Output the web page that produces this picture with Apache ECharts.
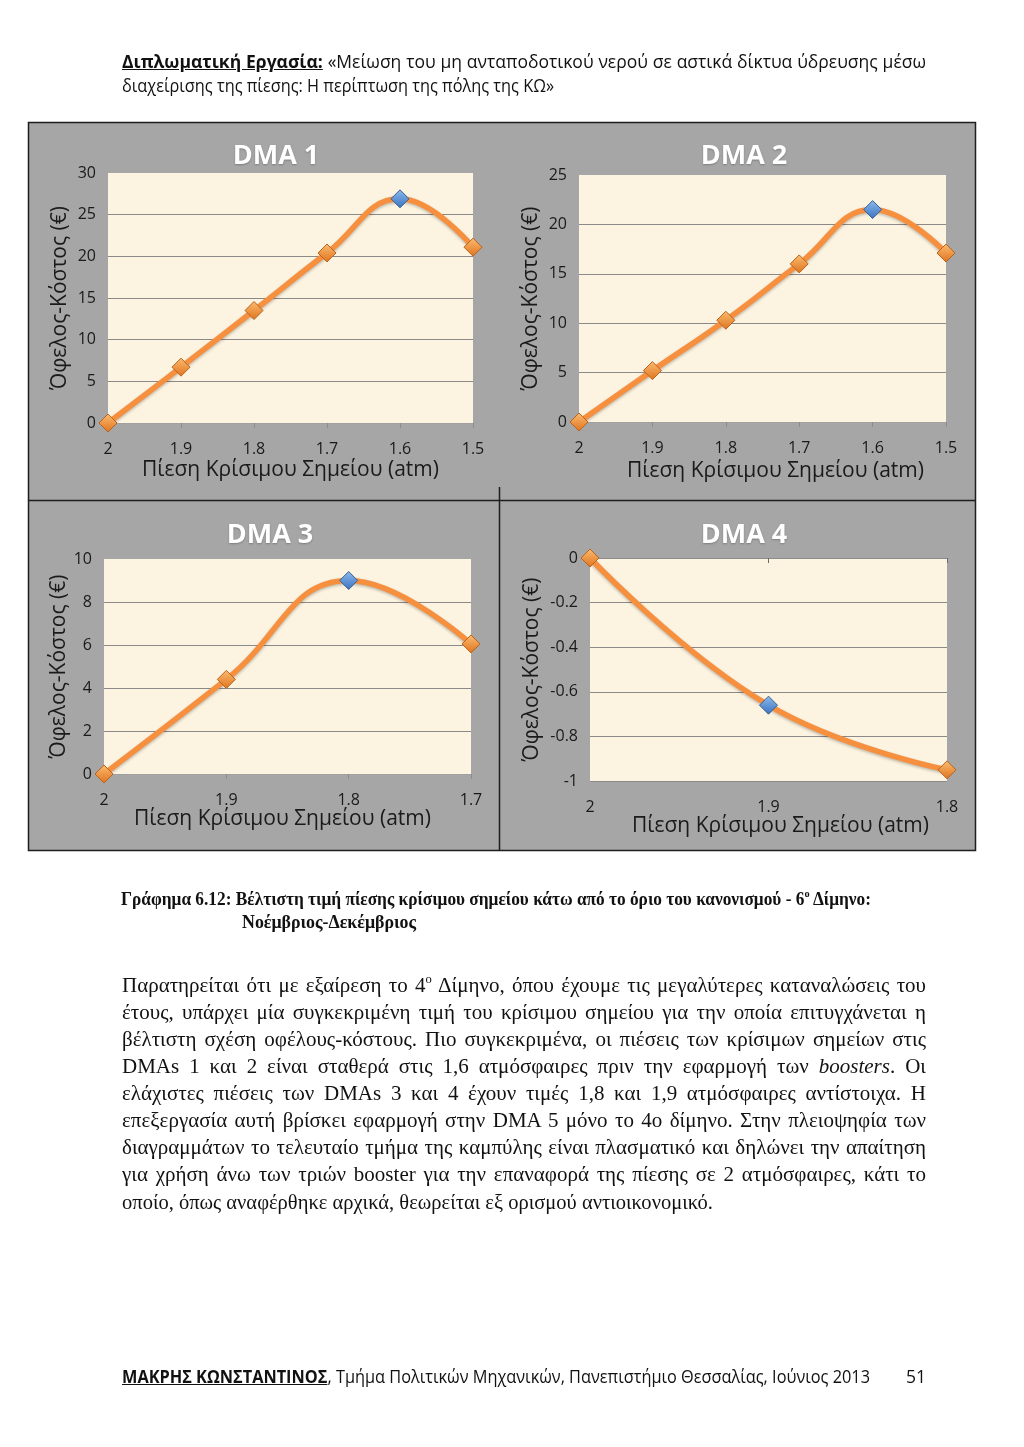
<!DOCTYPE html>
<html>
<head>
<meta charset="utf-8">
<script src="https://cdn.jsdelivr.net/npm/echarts@6/dist/echarts.min.js"></script>
<style>
  html, body { margin: 0; padding: 0; background: #ffffff; }
  body { width: 1024px; height: 1447px; position: relative; overflow: hidden; }
  #chart { position: absolute; left: 0; top: 0; width: 1024px; height: 1447px; }
  .ln { position: absolute; white-space: nowrap; color: #111; }
  .hdr { font-family: "Open Sans", sans-serif; font-size: 17.5px; line-height: 24px; }
  .cap { font-family: "Liberation Serif", serif; font-weight: bold; font-size: 19px; line-height: 24px; }
  .par { font-family: "Liberation Serif", serif; font-size: 21px; line-height: 26px; }
  .ftr { font-family: "Open Sans", sans-serif; font-size: 17.5px; line-height: 24px; }
  .bu { font-weight: bold; text-decoration: underline; }
  sup { font-size: 60%; line-height: 0; vertical-align: 0.7em; }
</style>
</head>
<body>
<div id="chart"></div>

<div class="ln hdr" style="left:122px; top:49px;" data-w="804" data-j="1"><span class="bu">Διπλωματική Εργασία:</span> «Μείωση του μη ανταποδοτικού νερού σε αστικά δίκτυα ύδρευσης μέσω</div>
<div class="ln hdr" style="left:122px; top:73px;" data-w="432">διαχείρισης της πίεσης: Η περίπτωση της πόλης της ΚΩ»</div>

<div class="ln cap" style="left:121px; top:887px;" data-w="750">Γράφημα 6.12: Βέλτιστη τιμή πίεσης κρίσιμου σημείου κάτω από το όριο του κανονισμού - 6<sup>ο</sup> Δίμηνο:</div>
<div class="ln cap" style="left:242px; top:910px;" data-w="174">Νοέμβριος-Δεκέμβριος</div>

<div class="ln par" style="left:122px; top:972px;" data-w="804" data-j="1">Παρατηρείται ότι με εξαίρεση το 4<sup>ο</sup> Δίμηνο, όπου έχουμε τις μεγαλύτερες καταναλώσεις του</div>
<div class="ln par" style="left:122px; top:999px;" data-w="804" data-j="1">έτους, υπάρχει μία συγκεκριμένη τιμή του κρίσιμου σημείου για την οποία επιτυγχάνεται η</div>
<div class="ln par" style="left:122px; top:1026px;" data-w="804" data-j="1">βέλτιστη σχέση οφέλους-κόστους. Πιο συγκεκριμένα, οι πιέσεις των κρίσιμων σημείων στις</div>
<div class="ln par" style="left:122px; top:1053px;" data-w="804" data-j="1">DMAs 1 και 2 είναι σταθερά στις 1,6 ατμόσφαιρες πριν την εφαρμογή των <i>boosters</i>. Οι</div>
<div class="ln par" style="left:122px; top:1080px;" data-w="804" data-j="1">ελάχιστες πιέσεις των DMAs 3 και 4 έχουν τιμές 1,8 και 1,9 ατμόσφαιρες αντίστοιχα. Η</div>
<div class="ln par" style="left:122px; top:1107px;" data-w="804" data-j="1">επεξεργασία αυτή βρίσκει εφαρμογή στην DMA 5 μόνο το 4ο δίμηνο. Στην πλειοψηφία των</div>
<div class="ln par" style="left:122px; top:1134px;" data-w="804" data-j="1">διαγραμμάτων το τελευταίο τμήμα της καμπύλης είναι πλασματικό και δηλώνει την απαίτηση</div>
<div class="ln par" style="left:122px; top:1161px;" data-w="804" data-j="1">για χρήση άνω των τριών booster για την επαναφορά της πίεσης σε 2 ατμόσφαιρες, κάτι το</div>
<div class="ln par" style="left:122px; top:1189px;" data-w="591">οποίο, όπως αναφέρθηκε αρχικά, θεωρείται εξ ορισμού αντιοικονομικό.</div>

<div class="ln ftr" style="left:122px; top:1364px;" data-w="748"><span class="bu">ΜΑΚΡΗΣ ΚΩΝΣΤΑΝΤΙΝΟΣ</span>, Τμήμα Πολιτικών Μηχανικών, Πανεπιστήμιο Θεσσαλίας, Ιούνιος 2013</div>
<div class="ln ftr" style="left:906px; top:1364px;">51</div>

<script>
// ---------------- data ----------------
const titles = ['DMA 1', 'DMA 2', 'DMA 3', 'DMA 4'];
const xTitle = 'Πίεση Κρίσιμου Σημείου (atm)';
const yTitle = 'Όφελος-Κόστος (€)';

const pressure1 = ['2', '1.9', '1.8', '1.7', '1.6', '1.5'];
const pressure2 = ['2', '1.9', '1.8', '1.7', '1.6', '1.5'];
const pressure3 = ['2', '1.9', '1.8', '1.7'];
const pressure4 = ['2', '1.9', '1.8'];

const dma1 = [0, 6.7, 13.5, 20.4, 26.9, 21.1];
const dma2 = [0, 5.2, 10.3, 16.0, 21.5, 17.1];
const dma3 = [0, 4.4, 9.0, 6.05];
const dma4 = [0, -0.66, -0.95];

const optimalIndex = [4, 4, 2, 1];

const yMin = [0, 0, 0, -1];
const yMax = [30, 25, 10, 0];
const yStep = [5, 5, 2, 0.2];

// ---------------- layout ----------------
const grids = [
  { left: 108, top: 173, width: 365, height: 250 },
  { left: 579, top: 175, width: 367, height: 247 },
  { left: 104, top: 559, width: 367, height: 215 },
  { left: 590, top: 558, width: 357, height: 223 }
];
const titlePos = [[271, 138], [739, 138], [265, 517], [739, 517]];
const xNameGap = [37, 39, 33, 23];
const xNamePad = [[0,0,0,0], [0,0,0,26], [0,10,0,0], [0,0,0,24]];
const yNameGap = [37, 37, 32, 47];

const cats = [pressure1, pressure2, pressure3, pressure4];
const vals = [dma1, dma2, dma3, dma4];

const FONT = '"Open Sans", sans-serif';
const TXT = '#1a1a1a';
const ORANGE = '#f68f3e';

const orangeFill = new echarts.graphic.LinearGradient(0, 0, 0, 1, [
  { offset: 0, color: '#fbbd72' }, { offset: 1, color: '#e0731c' }]);
const blueFill = new echarts.graphic.LinearGradient(0, 0, 0, 1, [
  { offset: 0, color: '#8dbbee' }, { offset: 1, color: '#3a72c0' }]);

const option = {
  animation: false,
  graphic: {
    elements: [
      { type: 'rect', z: -100, shape: { x: 28.5, y: 122.5, width: 947, height: 728 },
        style: { fill: '#a6a6a6', stroke: '#1e1e1e', lineWidth: 1.5 } },
      { type: 'line', z: -99, shape: { x1: 28, y1: 500.5, x2: 976, y2: 500.5 },
        style: { stroke: '#1e1e1e', lineWidth: 1.5 } },
      { type: 'line', z: -99, shape: { x1: 499.5, y1: 487, x2: 499.5, y2: 851 },
        style: { stroke: '#1e1e1e', lineWidth: 1.5 } }
    ]
  },
  title: titles.map((t, i) => ({
    text: t, left: titlePos[i][0], top: titlePos[i][1], textAlign: 'center',
    textStyle: { color: '#ffffff', fontSize: 27, fontWeight: 'bold', fontFamily: FONT,
      textShadowColor: 'rgba(0,0,0,0.25)', textShadowBlur: 2, textShadowOffsetY: 1 }
  })),
  grid: grids.map(g => Object.assign({ show: true, backgroundColor: '#fcf3e0', borderWidth: 0 }, g)),
  xAxis: cats.map((c, i) => ({
    type: 'category', gridIndex: i, data: c, boundaryGap: false,
    axisLine: { show: i < 3, lineStyle: { color: '#a0a0a0', width: 1 } },
    axisTick: { show: true, length: 5, lineStyle: { color: '#8c8c8c' } },
    axisLabel: { color: TXT, fontSize: 16, fontFamily: FONT, margin: 18 },
    name: xTitle, nameLocation: 'middle', nameGap: xNameGap[i],
    nameTextStyle: { color: TXT, fontSize: 21, fontFamily: FONT, padding: xNamePad[i] }
  })).concat([{
    type: 'category', gridIndex: 3, data: pressure4, boundaryGap: false, position: 'top',
    axisLine: { show: true, onZero: false, lineStyle: { color: '#8c8c8c' } },
    axisTick: { show: true, inside: true, length: 5, lineStyle: { color: '#6c6c6c' } },
    axisLabel: { show: false }
  }]),
  yAxis: cats.map((c, i) => ({
    type: 'value', gridIndex: i, min: yMin[i], max: yMax[i], interval: yStep[i],
    axisLine: { show: false }, axisTick: { show: false },
    axisLabel: { color: TXT, fontSize: 16, fontFamily: FONT, margin: 12 },
    splitLine: { show: true, showMinLine: i === 3, showMaxLine: false,
      lineStyle: { color: '#8a8a8a', width: 1 } },
    name: yTitle, nameLocation: 'middle', nameGap: yNameGap[i],
    nameTextStyle: { color: TXT, fontSize: 21, fontFamily: FONT }
  })),
  series: vals.map((v, i) => ({
    type: 'line', xAxisIndex: i, yAxisIndex: i, smooth: 0.45,
    symbol: 'diamond', symbolSize: 18, showAllSymbol: true,
    lineStyle: { color: ORANGE, width: 5.5, shadowColor: 'rgba(0,0,0,0.25)', shadowBlur: 3, shadowOffsetY: 1.5 },
    itemStyle: { color: orangeFill, borderColor: '#b8631e', borderWidth: 1 },
    data: v.map((y, k) => k === optimalIndex[i]
      ? { value: y, itemStyle: { color: blueFill, borderColor: '#3b5f8f', borderWidth: 1 } }
      : y),
    z: 3
  }))
};

const chart = echarts.init(document.getElementById('chart'), null, { renderer: 'canvas' });
chart.setOption(option);

// ---------------- text fitting ----------------
document.querySelectorAll('.ln[data-w]').forEach(el => {
  const target = +el.dataset.w;
  el.style.display = 'inline-block';
  const w = el.getBoundingClientRect().width;
  if (el.dataset.j && w <= target) {
    el.style.whiteSpace = 'normal';
    el.style.display = 'block';
    el.style.width = target + 'px';
    el.style.textAlign = 'justify';
    el.style.textAlignLast = 'justify';
  } else {
    el.style.transformOrigin = 'left center';
    el.style.transform = 'scaleX(' + (target / w) + ')';
  }
});
</script>
</body>
</html>
